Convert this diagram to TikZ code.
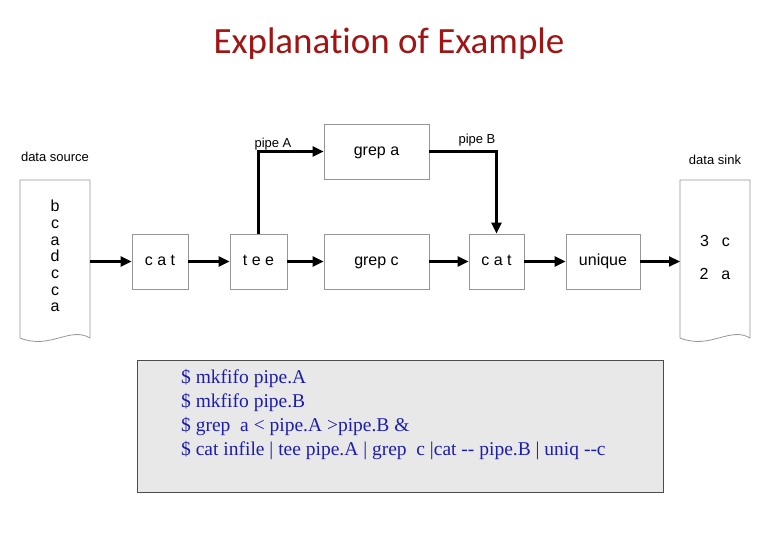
\documentclass[tikz,border=0pt]{standalone}
\usepackage{fontspec}
\setmainfont{Liberation Sans}
\newfontfamily\titlefont[Ligatures=NoCommon]{Carlito}
\newfontfamily\codefont{Liberation Serif}
\usetikzlibrary{arrows.meta}
\definecolor{boxgray}{RGB}{150,150,150}
\definecolor{titlered}{RGB}{160,20,20}
\definecolor{codeblue}{RGB}{30,30,170}
\tikzset{
  proc/.style={draw=boxgray, line width=0.8pt, minimum height=55pt, inner sep=0pt, text height=11pt, text depth=3pt, font=\fontsize{16}{18}\selectfont},
  flow/.style={line width=2.2pt, -{Triangle[length=11pt,width=10pt]}},
  lbl/.style={font=\fontsize{13}{15}\selectfont},
  doc/.style={draw=boxgray, line width=0.8pt, fill=white}
}
\begin{document}
\begin{tikzpicture}[x=1pt,y=-1pt]
\useasboundingbox (0,0) rectangle (780,540);
\node[titlered, font=\titlefont\fontsize{37}{42}\selectfont] (title) at (389,44) {Explanation of Example};
% documents
\draw[doc] (20,338) -- (20,180) -- (90,180) -- (90,338) .. controls (70,326) and (50,350) .. (20,338);
\draw[doc] (680,338) -- (680,180) -- (750,180) -- (750,338) .. controls (730,326) and (710,350) .. (680,338);
\coordinate (src) at (90,261.5);
\coordinate (sink) at (680,261.5);
\node[lbl] (srclbl) at (55,157) {data source};
\node[lbl] (sinklbl) at (715,160) {data sink};
\node[font=\fontsize{16}{16.7}\selectfont, align=center] (srctext) at (55,256) {b\\c\\a\\d\\c\\c\\a};
\node[font=\fontsize{16}{33}\selectfont, align=center] (sinktext) at (715,257) {3\hspace{0.8em}c\\2\hspace{0.8em}a};
% boxes
\node[proc, minimum width=56pt] (cat1) at (160,261.5) {c a t};
\node[proc, minimum width=57pt] (tee) at (258.5,261.5) {t e e};
\node[proc, minimum width=105pt] (grepc) at (376.5,261.5) {grep c};
\node[proc, minimum width=105pt] (grepa) at (376.5,151.5) {grep a};
\node[proc, minimum width=55pt] (cat2) at (496.5,261.5) {c a t};
\node[proc, minimum width=74pt] (uniq) at (603,261.5) {unique};
% connectors
\draw[flow] (src) -- (cat1.west);
\draw[flow] (cat1) -- (tee);
\draw[flow] (tee) -- (grepc);
\draw[flow] (grepc) -- (cat2);
\draw[flow] (cat2) -- (uniq);
\draw[flow] (uniq.east) -- (sink);
\draw[flow] (tee.north) |- (grepa.west);
\draw[flow] (grepa.east) -| (cat2.north);
\node[lbl] (pa) at (273,144) {pipe A};
\node[lbl] (pb) at (477,140) {pipe B};
% code box
\node[draw=black!70, fill=black!9, line width=0.8pt, minimum width=526pt, minimum height=132pt] (code) at (400,426) {};
\node[anchor=north west, text=codeblue, font=\codefont\fontsize{19.5}{24}\selectfont, align=left, inner sep=0pt] (codetext) at (181,369) {\$ mkfifo pipe.A\\\$ mkfifo pipe.B\\\$ grep\ \ a < pipe.A >pipe.B \&\\\$ cat infile | tee pipe.A | grep\ \ c |cat -- pipe.B | uniq --c};
\end{tikzpicture}
\end{document}
